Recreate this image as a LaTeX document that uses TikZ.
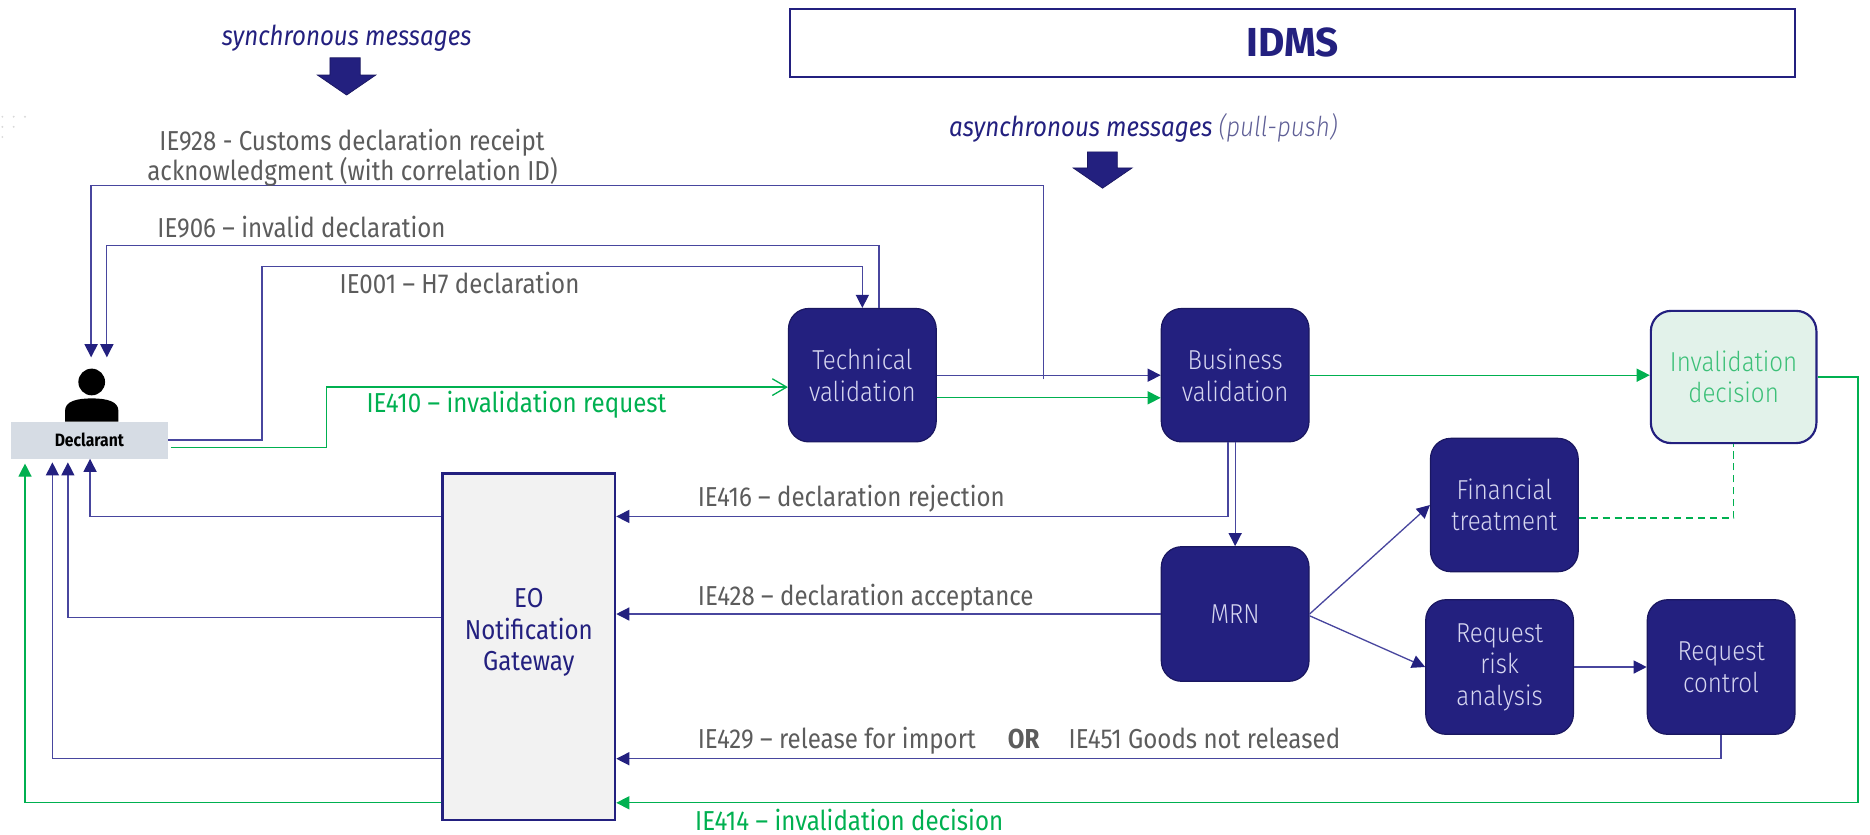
\documentclass[tikz,border=0pt]{standalone}
\usepackage{fontspec}
\setmainfont{Fira Sans}[FakeStretch=0.88]
\newfontfamily\rswide{Fira Sans}
\newfontfamily\rslight{Fira Sans Light}[FakeStretch=0.88]
\usetikzlibrary{arrows.meta,calc}
\definecolor{navy}{RGB}{35,32,127}
\definecolor{navyborder}{RGB}{26,23,96}
\definecolor{linenavy}{RGB}{72,70,158}
\definecolor{mygreen}{RGB}{0,176,80}
\definecolor{invtext}{RGB}{60,192,120}
\definecolor{invfill}{RGB}{226,242,234}
\definecolor{declfill}{RGB}{214,220,228}
\definecolor{eofill}{RGB}{242,242,242}
\definecolor{labelgray}{RGB}{92,92,92}
\definecolor{boxtext}{RGB}{214,214,240}
\definecolor{pullgray}{RGB}{95,95,150}
\newcommand\rslbl{\fontsize{23}{26.5}\selectfont}
\newcommand\rsbox{\rslight\fontsize{23}{26.5}\selectfont}
\newcommand\rsdecl{\fontsize{15}{18}\selectfont\bfseries}
\newcommand\rsidms{\rswide\fontsize{34}{40}\selectfont\bfseries}
\newcommand\rssync{\fontsize{23}{26}\selectfont\itshape}
\tikzset{
  procbox/.style={rectangle, rounded corners=17pt, fill=navy, draw=navyborder, line width=1pt,
    minimum width=124pt, minimum height=112pt, text=boxtext, align=center, font=\rsbox, inner sep=0pt},
  nline/.style={draw=linenavy, line width=1.1pt},
  narrow/.style={nline, -{Triangle[length=11pt,width=11pt,color=navy]}},
  gline/.style={draw=mygreen, line width=1.1pt},
  garrow/.style={gline, -{Triangle[length=11pt,width=11pt,color=mygreen]}},
  gopen/.style={gline, -{Straight Barb[length=12pt,width=14pt]}},
  lbl/.style={text=labelgray, font=\rslbl, inner sep=0pt, anchor=base west},
  blockarrow/.style={fill=navy, draw=navyborder, line width=0.6pt},
}
\begin{document}
\begin{tikzpicture}[x=1pt,y=-1pt]
\useasboundingbox (0,0) rectangle (1570,701);
% faint dots
\foreach \p in {(2,98),(11.5,98),(21,98),(2,106.5),(11.5,106.5),(2,115)} \fill[gray!30] \p circle[radius=0.9];

% headings
\node[font=\rssync, text=navy, anchor=base, inner sep=0pt] (synclbl) at (291,37.8) {synchronous messages};
\fill[blockarrow] (277,48.5) -- (302.4,48.5) -- (302.4,63) -- (315.5,63) -- (291,79.8) -- (266.5,63) -- (277,63) -- cycle;
\node[draw=navy, line width=1.6pt, minimum width=844pt, minimum height=57pt, inner sep=0pt, font=\rsidms, text=navy] (idms) at (1085,36) {IDMS};
\node[font=\rssync, text=navy, anchor=base west, inner sep=0pt] (asynclbl) at (796.7,114.9) {asynchronous messages {\rslight\textcolor{pullgray}{(pull-push)}}};
\fill[blockarrow] (913,127.5) -- (938,127.5) -- (938,141) -- (950.5,141) -- (925.7,158) -- (901,141) -- (913,141) -- cycle;

% declarant
\fill[black] (77,320.7) circle[radius=11.2];
\fill[black] (54.6,354) -- (54.6,345) .. controls (54.6,337) and (64,334.5) .. (77,334.5) .. controls (90,334.5) and (99.4,337) .. (99.4,345) -- (99.4,354) -- cycle;
\node[fill=declfill, minimum width=132pt, minimum height=31pt, inner sep=0pt, font=\rsdecl, text=black] (decl) at (75,369.5) {Declarant};

% process boxes
\node[procbox] (tech) at (724,315) {Technical\\validation};
\node[procbox] (bus) at (1037,315) {Business\\validation};
\node[procbox, fill=invfill, text=invtext, draw=navy, line width=1.8pt, minimum width=139pt, minimum height=111pt] (inv) at (1455.5,316.5) {Invalidation\\decision};
\node[procbox, minimum height=113pt] (mrn) at (1037,515.5) {MRN};
\node[procbox] (fin) at (1263,424) {Financial\\treatment};
\node[procbox, minimum height=113pt] (rra) at (1259,560) {Request\\risk\\analysis};
\node[procbox, minimum height=113pt] (rc) at (1445,560) {Request\\control};

% EO gateway
\node[draw=navy, fill=eofill, line width=1.8pt, minimum width=145pt, minimum height=291pt, inner sep=0pt] (eo) at (444,543) {};
\node[text=navy, font=\rslbl, align=center, inner sep=0pt] (eotext) at (444,531) {EO\\Notification\\Gateway};

% free ends
\coordinate (d928) at (76.5,300);
\coordinate (d906) at (89.7,300);
\coordinate (c928) at (876,318.6);

% synchronous connectors
\draw[narrow] (c928) |- (d928 |- 0,155.5) -- (d928);
\draw[narrow] (tech.north -| 738,0) |- (d906 |- 0,206.4) -- (d906);
\draw[narrow] (decl.east) -| (220,224) -| (tech.north);
\draw[gopen] ($(decl.east)+(2,6)$) -| (274,325) -- ($(tech.west)+(0,10)$);

% IDMS flow
\draw[narrow] (tech.east) -- (bus.west);
\draw[garrow] ($(tech.east)+(0,19)$) -- ($(bus.west)+(0,19)$);
\draw[garrow] (bus.east) -- (bus.east -| inv.west);
\draw[garrow] (inv.east) -| (1560,674) -- (eo.east |- 0,674);
\draw[gline, dash pattern=on 6pt off 4pt] ($(fin.east)+(0,11)$) -| (inv.south);
\draw[narrow] ($(bus.south)+(-6,0)$) |- (eo.east |- 0,433.6);
\draw[narrow] (bus.south) -- (mrn.north);
\draw[narrow] (mrn.west) -- (eo.east |- mrn.west);
\draw[narrow] (mrn.east) -- (fin.west);
\draw[narrow] ($(mrn.east)+(0,1.5)$) -- (rra.west);
\draw[narrow] (rra.east) -- (rc.west);
\draw[narrow] (rc.south) |- (eo.east |- 0,637);

% gateway to declarant
\draw[narrow] (eo.west |- 0,433.6) -| ($(decl.south)+(0.6,0)$);
\draw[narrow] (eo.west |- 0,518.6) -| ($(decl.south -| 57,0)+(0,3)$);
\draw[narrow] (eo.west |- 0,637) -| ($(decl.south -| 44,0)+(0,3)$);
\draw[garrow] (eo.west |- 0,674) -| ($(decl.south -| 21,0)+(0,4)$);

% labels
\node[lbl, anchor=base] (l928a) at (295.5,126) {IE928 - Customs declaration receipt};
\node[lbl, anchor=base] (l928b) at (296,151.3) {acknowledgment (with correlation ID)};
\node[lbl] (l906) at (132,199) {IE906 – invalid declaration};
\node[lbl] (l001) at (285,246.5) {IE001 – H7 declaration};
\node[lbl, text=mygreen] (l410) at (307.6,346) {IE410 – invalidation request};
\node[lbl] (l416) at (585.7,425) {IE416 – declaration rejection};
\node[lbl] (l428) at (585.8,508.4) {IE428 – declaration acceptance};
\node[lbl] (l429) at (585.7,628.8) {IE429 – release for import};
\node[lbl, font=\rslbl\bfseries] (lor) at (846,628.8) {OR};
\node[lbl] (l451) at (897,628.8) {IE451 Goods not released};
\node[lbl, text=mygreen] (l414) at (583.5,697) {IE414 – invalidation decision};
\end{tikzpicture}
\end{document}
